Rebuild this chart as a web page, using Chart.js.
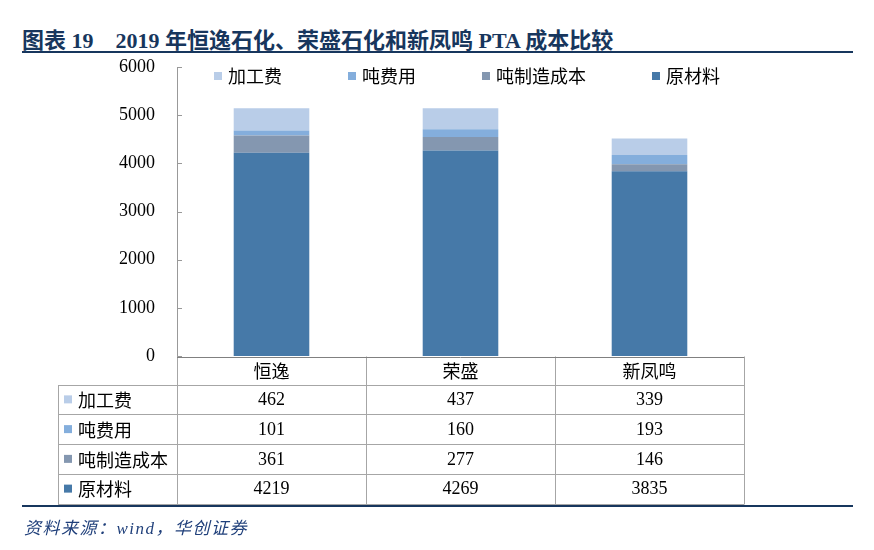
<!DOCTYPE html>
<html>
<head>
<meta charset="utf-8">
<script src="https://cdn.jsdelivr.net/npm/chart.js@4.4.0/dist/chart.umd.min.js"></script>
<style>
  html, body { margin: 0; padding: 0; background: #fff; }
  #wrap { position: relative; width: 874px; height: 550px; overflow: hidden; }
  #chart { position: absolute; left: 0; top: 0; }
  .title { position: absolute; left: 22px; top: 22px; font: bold 22px "Liberation Serif", "Noto Sans CJK SC"; color: #17365D; white-space: pre; }
  .title .gap { display: inline-block; width: 22px; }
  .rule { position: absolute; left: 22px; width: 831px; height: 2px; background: #17365D; }
  .source { position: absolute; left: 24px; top: 514px; font: italic 17px "Liberation Serif", "Noto Sans CJK SC"; color: #1F3F7A; white-space: pre; letter-spacing: 1.5px; }
</style>
</head>
<body>
<div id="wrap">
  <div class="title">图表 19<span class="gap"></span>2019 年恒逸石化、荣盛石化和新凤鸣 PTA 成本比较</div>
  <div class="rule" style="top:51px"></div>
  <canvas id="chart" width="874" height="550"></canvas>
  <div class="rule" style="top:505px"></div>
  <div class="source">资料来源：wind，华创证券</div>
</div>
<script>
  // 数据（从下往上堆叠）
  const companies = ['恒逸', '荣盛', '新凤鸣'];
  const rawMaterial = [4219, 4269, 3835];  // 原材料
  const mfgCost = [361, 277, 146];         // 吨制造成本
  const tonFee = [101, 160, 193];          // 吨费用
  const processFee = [462, 437, 339];      // 加工费
  const yMax = 6000;
  const yStep = 1000;

  const cjk = '"Noto Sans CJK SC"';
  const serif = '"Liberation Serif"';

  // 图例 + 坐标轴内刻度 + 下方数据表
  const tablePlugin = {
    id: 'dataTable',
    afterDraw(chart) {
      const ctx = chart.ctx;
      const a = chart.chartArea;
      const yScale = chart.scales.y;
      const sets = chart.data.datasets.slice().reverse(); // 加工费 在最上
      ctx.save();

      // y 轴内侧刻度
      ctx.strokeStyle = '#999';
      ctx.lineWidth = 1;
      yScale.ticks.forEach(t => {
        const py = Math.round(yScale.getPixelForValue(t.value)) + 0.5;
        ctx.beginPath();
        ctx.moveTo(a.left, py);
        ctx.lineTo(a.left + 5, py);
        ctx.stroke();
      });

      // 图例
      ctx.font = '18px ' + cjk;
      ctx.textBaseline = 'middle';
      ctx.textAlign = 'left';
      let lx = a.left + 37;
      const ly = 76;
      sets.forEach(ds => {
        ctx.fillStyle = ds.backgroundColor;
        ctx.fillRect(lx, ly - 4, 8, 8);
        ctx.fillStyle = '#000';
        ctx.fillText(ds.label, lx + 14, ly);
        lx += 14 + ctx.measureText(ds.label).width + 66;
      });

      // 数据表
      const colW = (a.right - a.left) / companies.length;
      const cols = [58, a.left];
      companies.forEach((c, i) => cols.push(a.left + colW * (i + 1)));
      const top = a.bottom + 0.5;
      const headH = 28;
      const rowH = 29.75;
      const rows = [top, top + headH];
      sets.forEach((s, i) => rows.push(top + headH + rowH * (i + 1)));
      const bottom = rows[rows.length - 1];

      ctx.strokeStyle = '#A6A6A6';
      ctx.beginPath();
      for (let i = 1; i < rows.length; i++) {
        const ry = Math.round(rows[i]) + 0.5;
        ctx.moveTo(cols[0], ry);
        ctx.lineTo(a.right, ry);
      }
      cols.forEach((cx, i) => {
        const px = Math.round(cx) + 0.5;
        ctx.moveTo(px, i === 0 ? Math.round(rows[1]) + 0.5 : top);
        ctx.lineTo(px, Math.round(bottom) + 0.5);
      });
      ctx.stroke();

      // x 轴线
      ctx.strokeStyle = '#808080';
      ctx.beginPath();
      ctx.moveTo(a.left, Math.round(top) + 0.5);
      ctx.lineTo(a.right, Math.round(top) + 0.5);
      ctx.stroke();

      // 表头
      ctx.textAlign = 'center';
      ctx.fillStyle = '#000';
      ctx.font = '18px ' + cjk;
      companies.forEach((c, i) => {
        ctx.fillText(c, a.left + colW * (i + 0.5), top + headH / 2 + 1);
      });

      // 各行
      sets.forEach((ds, r) => {
        const cy = rows[r + 1] + rowH / 2 + 1;
        ctx.fillStyle = ds.backgroundColor;
        ctx.fillRect(64, cy - 5, 8, 8);
        ctx.fillStyle = '#000';
        ctx.textAlign = 'left';
        ctx.font = '18px ' + cjk;
        ctx.fillText(ds.label, 78, cy);
        ctx.textAlign = 'center';
        ctx.font = '18px ' + serif;
        ds.data.forEach((v, i) => {
          ctx.fillText(String(v), a.left + colW * (i + 0.5), cy);
        });
      });

      ctx.restore();
    }
  };

  new Chart(document.getElementById('chart'), {
    type: 'bar',
    data: {
      labels: companies,
      datasets: [
        { label: '原材料', data: rawMaterial, backgroundColor: '#4679A8' },
        { label: '吨制造成本', data: mfgCost, backgroundColor: '#8497B0' },
        { label: '吨费用', data: tonFee, backgroundColor: '#84AEDC' },
        { label: '加工费', data: processFee, backgroundColor: '#B9CDE8' }
      ]
    },
    options: {
      responsive: false,
      animation: false,
      layout: { padding: { left: 97, right: 130, top: 67, bottom: 194 } },
      datasets: { bar: { barPercentage: 0.4, categoryPercentage: 1, borderWidth: 0 } },
      plugins: {
        legend: { display: false },
        tooltip: { enabled: false }
      },
      scales: {
        x: { stacked: true, display: false },
        y: {
          stacked: true,
          min: 0,
          max: yMax,
          afterFit(scale) { scale.width = 80; },
          grid: { display: false },
          border: { display: true, color: '#999' },
          ticks: {
            stepSize: yStep,
            padding: 14,
            color: '#000',
            font: { family: 'Liberation Serif', size: 18 },
            callback: v => String(v)
          }
        }
      }
    },
    plugins: [tablePlugin]
  });
</script>
</body>
</html>
